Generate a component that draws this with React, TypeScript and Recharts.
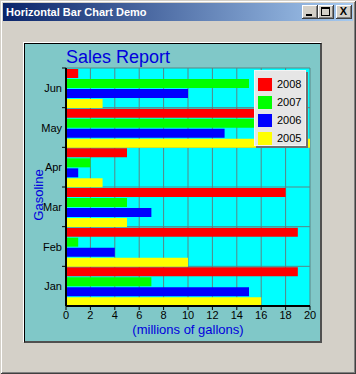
import { Bar, BarChart, CartesianGrid, Label, Legend, XAxis, YAxis } from "recharts";

// values (millions of gallons)
const months = ["Jan", "Feb", "Mar", "Apr", "May", "Jun"];
const sales2008 = [19, 19, 18, 5, 18, 1];
const sales2007 = [7, 1, 5, 2, 17, 15];
const sales2006 = [15, 4, 7, 1, 13, 10];
const sales2005 = [16, 10, 5, 3, 20, 3];
const xTicks = [0, 2, 4, 6, 8, 10, 12, 14, 16, 18, 20];

const series = [
  { key: "2008", values: sales2008, color: "#ff0000" },
  { key: "2007", values: sales2007, color: "#00ff00" },
  { key: "2006", values: sales2006, color: "#0000ff" },
  { key: "2005", values: sales2005, color: "#ffff00" },
];

const data = months.map((month, i) => {
  const row: Record<string, string | number> = { month };
  series.forEach((s) => (row[s.key] = s.values[i]));
  return row;
});

const font = '"Liberation Sans", Arial, sans-serif';
const labelBlue = "#0000dd";
const gridColor = "#5a8585";

function MonthTick({ x, y, payload }: any) {
  const top = y - (payload.offset ?? 0);
  return (
    <g>
      <line x1={x} x2={x + 4} y1={top} y2={top} stroke="#000" />
      <text x={x} y={y} dy={4} textAnchor="end" fontSize={11} fontFamily={font} fill="#000">
        {payload.value}
      </text>
    </g>
  );
}

// recharts hands the payload over in reverse for vertical layouts, keep series order
function LegendBox({ payload }: any) {
  const items = series
    .map((s) => (payload ?? []).find((p: any) => p.value === s.key))
    .filter(Boolean);
  return (
    <div
      style={{
        width: 52,
        height: 76,
        boxSizing: "border-box",
        background: "#e6e6e6",
        border: "1px solid #f4f4f4",
        boxShadow: "2px 2px 0 #707070",
        padding: "4px 0 0 3px",
        fontFamily: font,
        fontSize: 11,
      }}
    >
      {items.map((p: any) => (
        <div key={p.value} style={{ display: "flex", alignItems: "center", height: 18 }}>
          <span style={{ width: 14, height: 13, background: p.color, marginRight: 5 }} />
          <span style={{ color: "#000" }}>{p.value}</span>
        </div>
      ))}
    </div>
  );
}

function CaptionButton({ left, children }: { left: number; children: any }) {
  return (
    <div
      style={{
        position: "absolute",
        left,
        top: 5,
        width: 16,
        height: 14,
        boxSizing: "border-box",
        background: "#d4d0c8",
        boxShadow: "inset -1px -1px 0 #404040, inset 1px 1px 0 #fff, inset -2px -2px 0 #808080",
      }}
    >
      {children}
    </div>
  );
}

export default function App() {
  return (
    <div
      style={{
        position: "fixed",
        left: 0,
        top: 0,
        width: 356,
        height: 374,
        background: "#d4d0c8",
        boxShadow:
          "inset 1px 1px 0 #d4d0c8, inset -1px -1px 0 #404040, inset 2px 2px 0 #fff, inset -2px -2px 0 #808080",
        overflow: "hidden",
      }}
    >
      <div
        style={{
          position: "absolute",
          left: 3,
          top: 3,
          width: 350,
          height: 18,
          background: "linear-gradient(to right, #0a246a, #a6caf0)",
          color: "#fff",
          fontFamily: font,
          fontWeight: "bold",
          fontSize: 11,
          lineHeight: "18px",
          paddingLeft: 3,
          boxSizing: "border-box",
        }}
      >
        Horizontal Bar Chart Demo
      </div>
      <CaptionButton left={302}>
        <div style={{ position: "absolute", left: 4, top: 9, width: 6, height: 2, background: "#000" }} />
      </CaptionButton>
      <CaptionButton left={318}>
        <div
          style={{
            position: "absolute",
            left: 3,
            top: 2,
            width: 9,
            height: 9,
            boxSizing: "border-box",
            borderLeft: "1px solid #000",
            borderRight: "1px solid #000",
            borderBottom: "1px solid #000",
            borderTop: "2px solid #000",
          }}
        />
      </CaptionButton>
      <CaptionButton left={336}>
        <div
          style={{
            position: "absolute",
            left: 0,
            top: 0,
            width: 15,
            height: 13,
            textAlign: "center",
            lineHeight: "13px",
            fontFamily: font,
            fontWeight: "bold",
            fontSize: 11,
          }}
        >
          X
        </div>
      </CaptionButton>

      {/* teal chart panel */}
      <div
        style={{
          position: "absolute",
          left: 24,
          top: 43,
          width: 298,
          height: 300,
          boxSizing: "border-box",
          background: "#80c8c8",
          borderLeft: "1px solid #000",
          borderTop: "1px solid #000",
          borderRight: "2px solid #505050",
          borderBottom: "2px solid #505050",
          boxShadow: "-1px -1px 0 #fff",
        }}
      />
      <div
        style={{
          position: "absolute",
          left: 66,
          top: 48,
          fontFamily: font,
          fontSize: 18,
          lineHeight: "18px",
          color: labelBlue,
        }}
      >
        Sales Report
      </div>

      <div style={{ position: "absolute", left: 0, top: 0 }}>
        <BarChart
          width={356}
          height={374}
          data={data}
          layout="vertical"
          margin={{ top: 68, right: 46, bottom: 38, left: 10 }}
          barCategoryGap={1}
          barGap={1}
        >
          <CartesianGrid
            fill="#00ffff"
            fillOpacity={1}
            stroke={gridColor}
            strokeWidth={1}
            horizontalCoordinatesGenerator={({ offset }: any) =>
              months.map((_, i) => offset.top + (offset.height * i) / months.length)
            }
          />
          <XAxis
            type="number"
            domain={[0, 20]}
            ticks={xTicks}
            height={30}
            tickSize={4}
            tickMargin={1}
            tick={{ fill: "#000", fontSize: 11, fontFamily: font }}
            stroke="#000"
            axisLine={{ stroke: "#000", strokeWidth: 2 }}
            tickLine={{ stroke: "#000" }}
          >
            <Label
              value="(millions of gallons)"
              position="insideBottom"
              offset={2}
              fill={labelBlue}
              fontSize={13}
              fontFamily={font}
            />
          </XAxis>
          <XAxis
            xAxisId="top"
            orientation="top"
            type="number"
            domain={[0, 20]}
            height={0}
            tick={false}
            tickLine={false}
            axisLine={{ stroke: "#000", strokeWidth: 2 }}
          />
          <YAxis
            type="category"
            dataKey="month"
            reversed
            width={56}
            tickSize={4}
            tickMargin={0}
            tickLine={false}
            tick={<MonthTick />}
            axisLine={{ stroke: "#000", strokeWidth: 2 }}
          >
            <Label
              value="Gasoline"
              position="center"
              angle={-90}
              dy={8}
              fill={labelBlue}
              fontSize={13}
              fontFamily={font}
            />
          </YAxis>
          <YAxis
            yAxisId="right"
            orientation="right"
            type="category"
            dataKey="month"
            width={0}
            tick={false}
            tickLine={false}
            axisLine={{ stroke: "#000", strokeWidth: 2 }}
          />
          <Legend
            layout="horizontal"
            align="center"
            verticalAlign="middle"
            wrapperStyle={{ left: 254, top: 70, width: 52 }}
            content={<LegendBox />}
          />
          {series.map((s) => (
            <Bar key={s.key} dataKey={s.key} name={s.key} fill={s.color} isAnimationActive={false} />
          ))}
        </BarChart>
      </div>
    </div>
  );
}
